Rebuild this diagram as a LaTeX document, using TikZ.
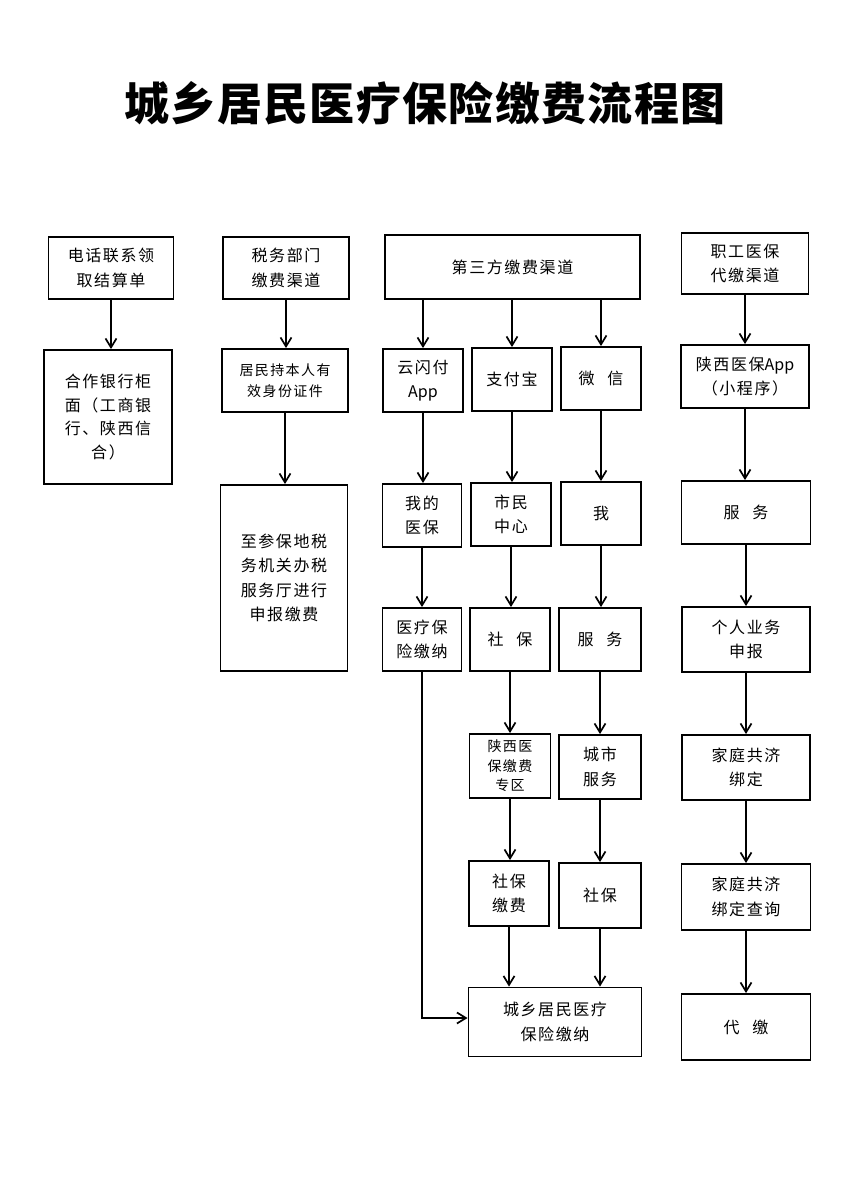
\documentclass[tikz,border=0pt]{standalone}
\usepackage{fontspec}
\newfontfamily\cjk[LetterSpace=10]{Noto Sans CJK SC}
\newfontfamily\cjkt[LetterSpace=3]{Noto Sans CJK SC}
\newfontfamily\cjkn{Noto Sans CJK SC}
\newcommand{\appword}{{\cjkn App}}
\usetikzlibrary{arrows.meta}
\begin{document}
\begin{tikzpicture}[x=1pt,y=-1pt,
  box/.style={draw, line width=1.9pt, inner sep=0pt, align=center,
    font=\cjk\fontsize{16}{24.5}\selectfont},
  smalltext/.style={font=\cjk\fontsize{14}{21}\selectfont},
  tinytext/.style={font=\cjk\fontsize{14}{19.5}\selectfont},
  arr/.style={-{Straight Barb[length=9pt,width=11pt,line width=1.7pt]}, line width=1.9pt}]
\fill[white] (0,0) rectangle (848,1200);
\useasboundingbox (0,0) rectangle (848,1200);

\node[font=\cjkt\bfseries\fontsize{45}{50}\selectfont] (title) at (425,103) {城乡居民医疗保险缴费流程图};

% column 1
\node[box, minimum width=125pt, minimum height=62pt] (n1) at (111,268) {电话联系领\\取结算单};
\node[box, minimum width=128pt, minimum height=134pt, font=\cjk\fontsize{16}{23.5}\selectfont] (n2) at (108,417) {合作银行柜\\面（工商银\\行、陕西信\\合）};

% column 2
\node[box, minimum width=126pt, minimum height=62pt] (t1) at (286,268) {税务部门\\缴费渠道};
\node[box, smalltext, minimum width=126pt, minimum height=63pt] (t2) at (285,380.5) {居民持本人有\\效身份证件};
\node[box, minimum width=127pt, minimum height=186pt] (t3) at (284,578) {至参保地税\\务机关办税\\服务厅进行\\申报缴费};

% column 3
\node[box, minimum width=255pt, minimum height=64pt] (s0) at (512.5,267) {第三方缴费渠道};
\node[box, minimum width=80pt, minimum height=63pt] (a1) at (423,380.5) {云闪付\\\appword};
\node[box, minimum width=80pt, minimum height=63pt] (b1) at (512,379.5) {支付宝};
\node[box, minimum width=80pt, minimum height=63pt] (c1) at (601,378.5) {微\hspace{0.8em}信};
\node[box, minimum width=79pt, minimum height=63pt] (a2) at (422,515.5) {我的\\医保};
\node[box, minimum width=80pt, minimum height=63pt] (b2) at (511,514.5) {市民\\中心};
\node[box, minimum width=80pt, minimum height=63pt] (c2) at (601,513.5) {我};
\node[box, minimum width=79pt, minimum height=63pt] (a3) at (422,639.5) {医疗保\\险缴纳};
\node[box, minimum width=80pt, minimum height=63pt] (b3) at (510,639.5) {社\hspace{0.8em}保};
\node[box, minimum width=82pt, minimum height=63pt] (c3) at (600,639.5) {服\hspace{0.8em}务};
\node[box, tinytext, minimum width=81pt, minimum height=64pt] (b4) at (510,766) {陕西医\\保缴费\\专区};
\node[box, minimum width=82pt, minimum height=64pt] (c4) at (600,767) {城市\\服务};
\node[box, minimum width=80pt, minimum height=65pt] (b5) at (509,893.5) {社保\\缴费};
\node[box, minimum width=82pt, minimum height=65pt] (c5) at (600,895.5) {社保};
\node[box, minimum width=173pt, minimum height=69pt] (e) at (555,1022) {城乡居民医疗\\保险缴纳};

% column 4
\node[box, minimum width=127pt, minimum height=61pt] (d0) at (745,263.5) {职工医保\\代缴渠道};
\node[box, minimum width=128pt, minimum height=63pt] (d1) at (745,376.5) {陕西医保\appword\\（小程序）};
\node[box, minimum width=129pt, minimum height=63pt] (d2) at (746,512.5) {服\hspace{0.8em}务};
\node[box, minimum width=128pt, minimum height=65pt] (d3) at (746,639.5) {个人业务\\申报};
\node[box, minimum width=128pt, minimum height=65pt] (d4) at (746,767.5) {家庭共济\\绑定};
\node[box, minimum width=129pt, minimum height=66pt] (d5) at (746,897) {家庭共济\\绑定查询};
\node[box, minimum width=129pt, minimum height=66pt] (d6) at (746,1027) {代\hspace{0.8em}缴};

% arrows
\draw[arr] (n1.south) -- (n1.south |- n2.north);
\draw[arr] (t1.south) -- (t1.south |- t2.north);
\draw[arr] (t2.south) -- (t2.south |- t3.north);

\draw[arr] (s0.south -| a1.north) -- (a1.north);
\draw[arr] (s0.south -| b1.north) -- (b1.north);
\draw[arr] (s0.south -| c1.north) -- (c1.north);
\draw[arr] (a1.south) -- (a1.south |- a2.north);
\draw[arr] (b1.south) -- (b1.south |- b2.north);
\draw[arr] (c1.south) -- (c1.south |- c2.north);
\draw[arr] (a2.south) -- (a2.south |- a3.north);
\draw[arr] (b2.south) -- (b2.south |- b3.north);
\draw[arr] (c2.south) -- (c2.south |- c3.north);
\draw[arr] (b3.south) -- (b3.south |- b4.north);
\draw[arr] (c3.south) -- (c3.south |- c4.north);
\draw[arr] (b4.south) -- (b4.south |- b5.north);
\draw[arr] (c4.south) -- (c4.south |- c5.north);
\draw[arr] (b5.south) -- (b5.south |- e.north);
\draw[arr] (c5.south) -- (c5.south |- e.north);
\draw[arr] (a3.south) |- ([yshift=4pt]e.west);

\draw[arr] (d0.south) -- (d0.south |- d1.north);
\draw[arr] (d1.south) -- (d1.south |- d2.north);
\draw[arr] (d2.south) -- (d2.south |- d3.north);
\draw[arr] (d3.south) -- (d3.south |- d4.north);
\draw[arr] (d4.south) -- (d4.south |- d5.north);
\draw[arr] (d5.south) -- (d5.south |- d6.north);
\end{tikzpicture}
\end{document}
